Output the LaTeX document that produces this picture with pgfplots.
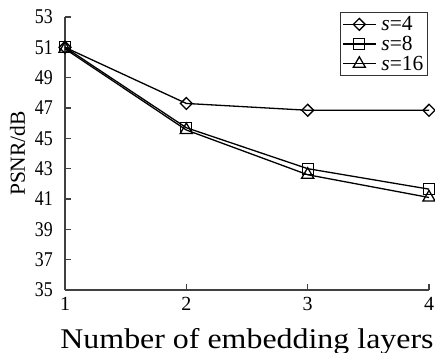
\documentclass[border=0pt]{standalone}
\usepackage{fontspec}
\setmainfont{Liberation Serif}
\newfontfamily\ytickfont[FakeStretch=0.85]{Liberation Serif}
\newfontfamily\xlabfont[FakeStretch=1.12]{Liberation Serif}
\usepackage{pgfplots}
\pgfplotsset{compat=1.18}
\begin{document}
\begin{tikzpicture}
\begin{axis}[
 scale only axis, width=364bp, height=273bp,
 xmin=1,xmax=4,ymin=35,ymax=53,
 clip=false,
 axis lines=left, axis line style={-, line width=1.4bp, black!75},
 xtick={1,2,3,4}, ytick={35,37,...,53},
 tick align=inside, major tick length=6bp, tick style={line width=1.2bp, black!75},
 /pgf/number format/assume math mode=true,
 yticklabel style={font=\ytickfont\fontsize{21bp}{21bp}\selectfont, inner sep=0pt, anchor=east, xshift=-12bp},
 xticklabel style={font=\fontsize{20bp}{20bp}\selectfont, inner sep=0pt, anchor=north, yshift=-7bp},
 xlabel={Number of embedding layers},
 xlabel style={font=\xlabfont\fontsize{28.5bp}{28.5bp}\selectfont, inner sep=0pt, at={([yshift=-58bp]axis description cs:0.5,0)}, anchor=base},
 ylabel={PSNR/dB},
 ylabel style={font=\fontsize{21.5bp}{21.5bp}\selectfont, inner sep=0pt, at={([xshift=-40bp]axis description cs:0,0.5)}, anchor=base},
 legend style={at={(axis description cs:1,1)}, anchor=north east, xshift=-1bp, yshift=5bp, draw=black!80, line width=1.1bp, font=\fontsize{21.5bp}{21.5bp}\selectfont, row sep=0pt, inner sep=2bp, /tikz/every odd column/.append style={column sep=3bp}},
 legend cell align=left,
 legend image code/.code={\draw[mark repeat=2,mark phase=2,#1] plot coordinates {(0bp,0bp) (16.5bp,0bp) (33bp,0bp)};},
]
\coordinate (ll) at (rel axis cs:0,0);
\addplot[black, line width=1.3bp, mark=square, mark size=4.2bp, mark options={rotate=45, fill=white, solid}] coordinates {(1,51.0)(2,47.3)(3,46.85)(4,46.85)};
\addlegendentry{\textit{s}=4}
\addplot[black, line width=1.3bp, mark=square, mark size=5.5bp, mark options={fill=white, solid}] coordinates {(1,51.0)(2,45.7)(3,43.0)(4,41.65)};
\addlegendentry{\textit{s}=8}
\addplot[black, line width=1.3bp, mark=triangle, mark size=7bp, mark options={fill=white, solid}] coordinates {(1,50.9)(2,45.55)(3,42.6)(4,41.1)};
\addlegendentry{\textit{s}=16}
\end{axis}
\pgfresetboundingbox
\path ([shift={(-65bp,-63bp)}]ll) rectangle ([shift={(370bp,290bp)}]ll);
\end{tikzpicture}
\end{document}
